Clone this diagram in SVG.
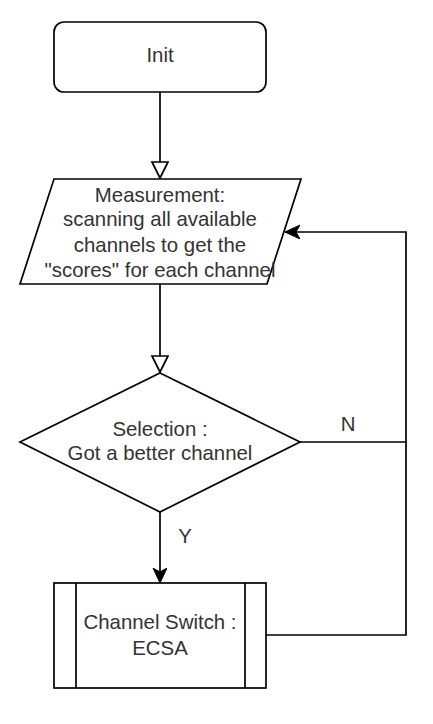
<svg xmlns="http://www.w3.org/2000/svg" width="433" height="724" viewBox="0 0 433 724">
<style>
.shape{fill:#fff;stroke:#000;stroke-width:1.7}
.edge{fill:none;stroke:#000;stroke-width:1.7}
text{font-family:"Liberation Sans",Arial,sans-serif;font-size:20.4px;fill:#333;text-anchor:middle}
</style>
<defs>
<marker id="open" markerUnits="userSpaceOnUse" markerWidth="20" markerHeight="20" refX="17" refY="9" orient="auto" viewBox="0 0 20 20">
<path d="M1,1 L17,9 L1,17 Z" fill="#fff" stroke="#000" stroke-width="1.7"/>
</marker>
<marker id="classic" markerUnits="userSpaceOnUse" markerWidth="18" markerHeight="16" refX="15" refY="7" orient="auto" viewBox="0 0 18 16">
<path d="M0,0 L15,7 L0,14 L4,7 Z" fill="#000" stroke="#000" stroke-width="1"/>
</marker>
</defs>
<g id="connectors">
<path class="edge" d="M160,92 L160,178" marker-end="url(#open)"/>
<path class="edge" d="M160,284 L160,372" marker-end="url(#open)"/>
<path class="edge" d="M160,512 L160,583" marker-end="url(#classic)"/>
<path class="edge" d="M300,442 L406,442 L406,232 L285,232" marker-end="url(#classic)"/>
<path class="edge" d="M266,635 L406,635 L406,442"/>
<text x="348" y="431">N</text>
<text x="185" y="543">Y</text>
</g>
<g id="init">
<rect class="shape" x="54" y="22" width="212" height="70" rx="10" ry="10"/>
<text x="160" y="62">Init</text>
</g>
<g id="measurement">
<path class="shape" d="M54,179 L301,179 L267,284 L20,284 Z"/>
<text x="160" y="202">Measurement:</text>
<text x="160" y="226">scanning all available</text>
<text x="160" y="252">channels to get the</text>
<text x="160" y="277">"scores" for each channel</text>
</g>
<g id="selection">
<path class="shape" d="M160,373 L300,442 L160,512 L20,442 Z"/>
<text x="160" y="436">Selection :</text>
<text x="160" y="460">Got a better channel</text>
</g>
<g id="switch">
<rect class="shape" x="54" y="583" width="212" height="105"/>
<path class="edge" d="M76,583 L76,688 M245,583 L245,688"/>
<text x="160" y="629">Channel Switch :</text>
<text x="160" y="655">ECSA</text>
</g>
</svg>
